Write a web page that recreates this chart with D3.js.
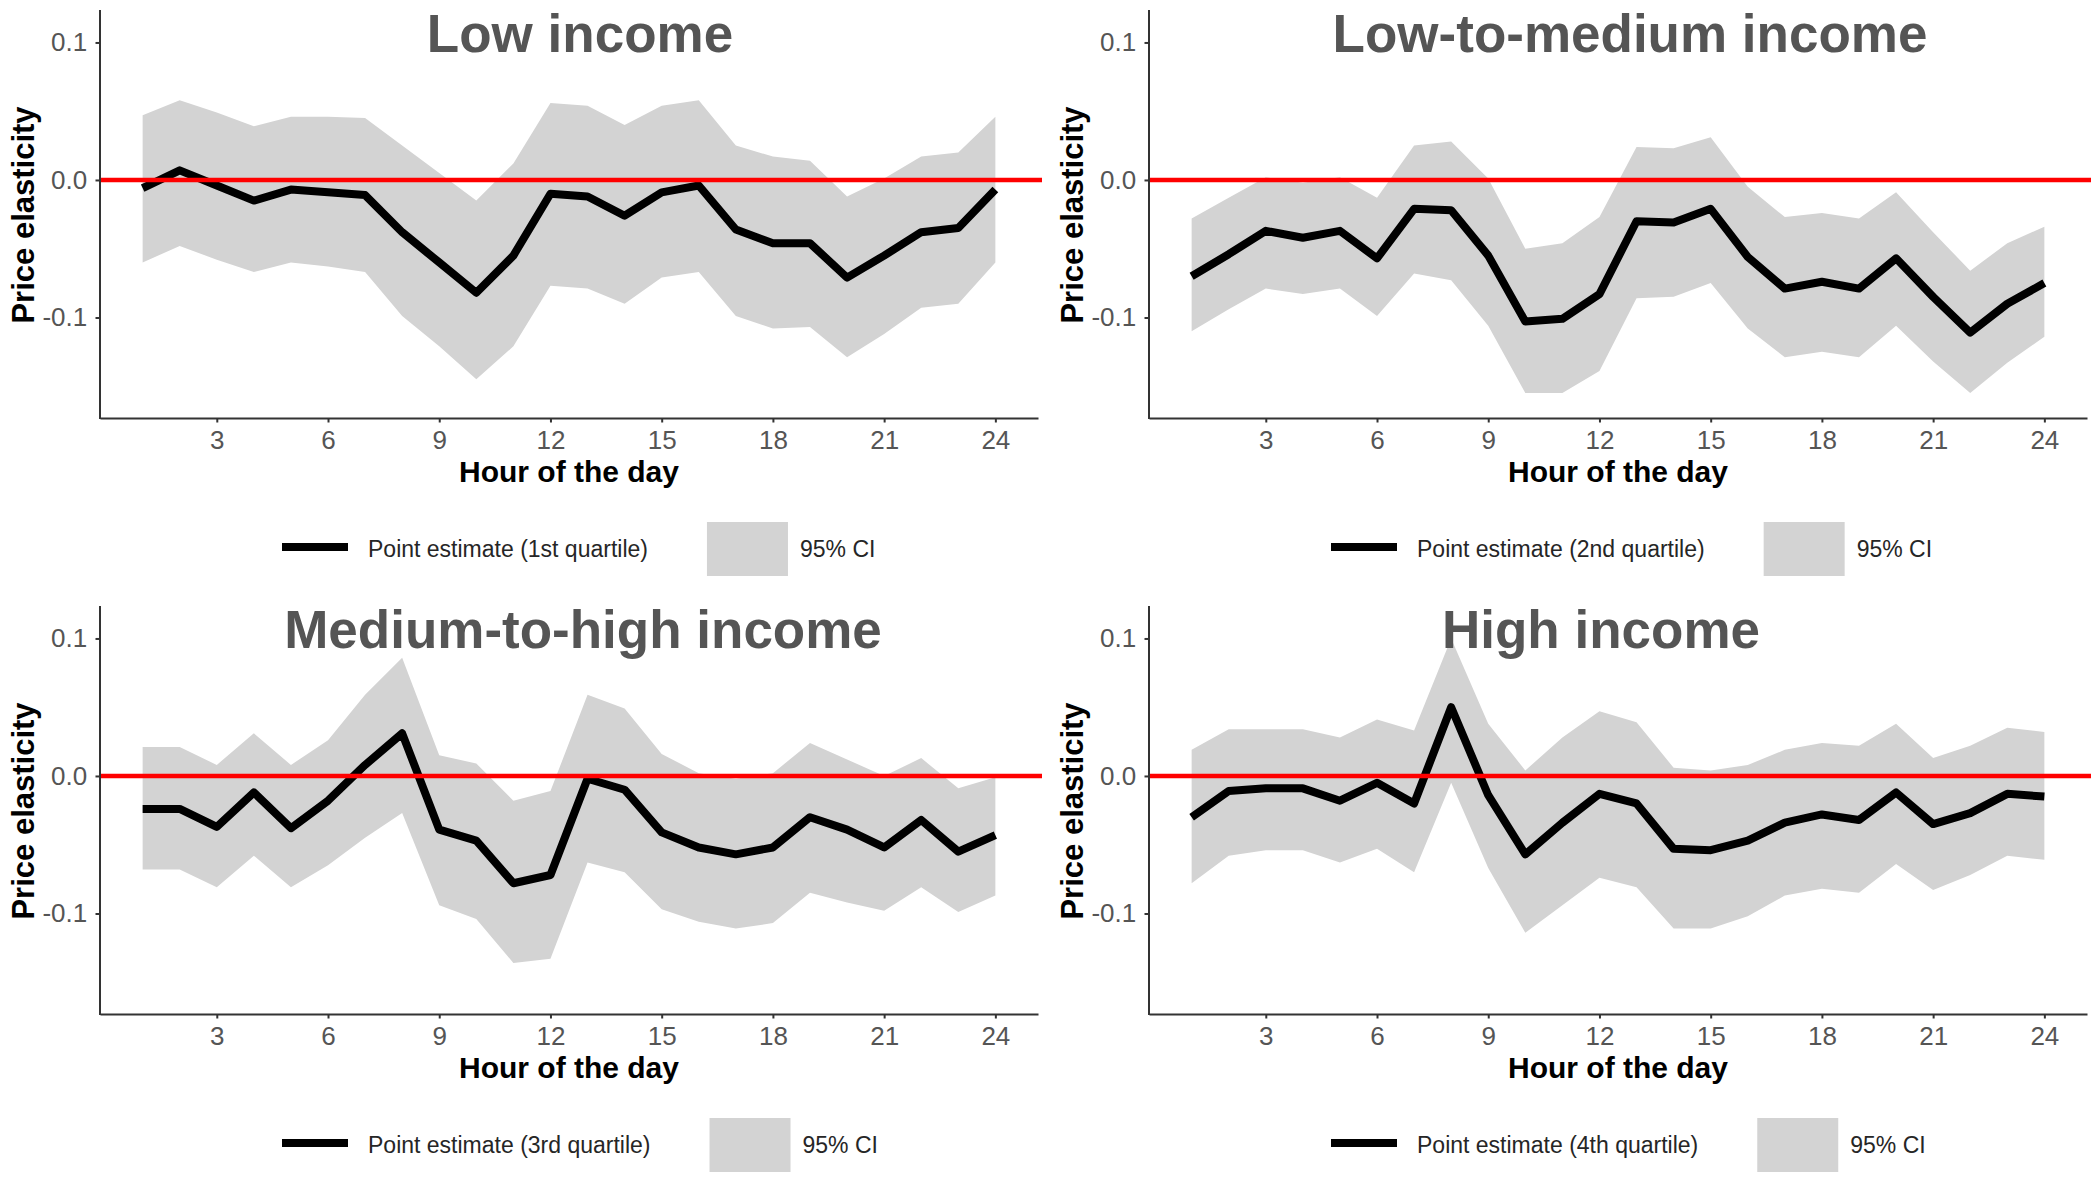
<!DOCTYPE html>
<html lang="en">
<head>
    <meta charset="UTF-8">
    <title>Price elasticity by hour of the day</title>
    <script src="https://d3js.org/d3.v7.min.js"></script>
    <style>
        body {
            margin: 0;
            background-color: #ffffff;
            font-family: "Liberation Sans", Arial, Helvetica, sans-serif;
        }

        svg {
            display: block;
        }

        .axis path,
        .axis line {
            stroke: #333333;
            stroke-width: 2px;
        }

        .axis text {
            fill: #555555;
            font-size: 26px;
            font-family: "Liberation Sans", Arial, sans-serif;
        }
    </style>
</head>
<body>

<svg id="chart"></svg>

<script>
    // ---- data ----
    const hours = [1, 2, 3, 4, 5, 6, 7, 8, 9, 10, 11, 12, 13, 14, 15, 16, 17, 18, 19, 20, 21, 22, 23, 24];

    const titles = ["Low income", "Low-to-medium income", "Medium-to-high income", "High income"];
    const legendLabels = [
        "Point estimate (1st quartile)",
        "Point estimate (2nd quartile)",
        "Point estimate (3rd quartile)",
        "Point estimate (4th quartile)"
    ];
    const ciLabel = "95% CI";

    const xTicks = [3, 6, 9, 12, 15, 18, 21, 24];
    const yTicks = [0.1, 0.0, -0.1];
    const yTickLabels = ["0.1", "0.0", "-0.1"];

    // Low income
    const est1 = [-0.006, 0.007, -0.004, -0.015, -0.007, -0.009, -0.011, -0.038, -0.060, -0.082, -0.055, -0.010,
                  -0.012, -0.026, -0.009, -0.004, -0.036, -0.046, -0.046, -0.071, -0.055, -0.038, -0.035, -0.007];
    const hi1 = [0.047, 0.058, 0.049, 0.039, 0.046, 0.046, 0.045, 0.025, 0.005, -0.015, 0.012, 0.056,
                 0.054, 0.040, 0.054, 0.058, 0.025, 0.017, 0.014, -0.012, 0.001, 0.017, 0.020, 0.046];
    const lo1 = [-0.060, -0.048, -0.058, -0.067, -0.060, -0.063, -0.067, -0.099, -0.121, -0.145, -0.121, -0.077,
                 -0.079, -0.090, -0.071, -0.067, -0.099, -0.108, -0.107, -0.129, -0.112, -0.093, -0.090, -0.060];

    // Low-to-medium income
    const est2 = [-0.070, -0.054, -0.037, -0.042, -0.037, -0.057, -0.021, -0.022, -0.055, -0.103, -0.101, -0.083,
                  -0.030, -0.031, -0.021, -0.056, -0.079, -0.074, -0.079, -0.057, -0.085, -0.111, -0.090, -0.075];
    const hi2 = [-0.028, -0.013, 0.002, -0.002, 0.002, -0.013, 0.025, 0.028, 0.001, -0.050, -0.046, -0.027,
                 0.024, 0.023, 0.031, -0.005, -0.027, -0.024, -0.028, -0.009, -0.038, -0.066, -0.046, -0.034];
    const lo2 = [-0.110, -0.094, -0.079, -0.083, -0.079, -0.099, -0.068, -0.073, -0.106, -0.155, -0.155, -0.139,
                 -0.086, -0.085, -0.075, -0.108, -0.129, -0.125, -0.129, -0.106, -0.132, -0.155, -0.133, -0.114];

    // Medium-to-high income
    const est3 = [-0.024, -0.024, -0.037, -0.012, -0.038, -0.018, 0.008, 0.031, -0.039, -0.047, -0.078, -0.072,
                  -0.002, -0.010, -0.041, -0.052, -0.057, -0.052, -0.030, -0.039, -0.052, -0.032, -0.055, -0.043];
    const hi3 = [0.021, 0.021, 0.008, 0.031, 0.008, 0.026, 0.059, 0.086, 0.015, 0.009, -0.018, -0.011,
                 0.059, 0.049, 0.016, 0.002, -0.002, 0.002, 0.024, 0.012, 0.000, 0.013, -0.009, -0.001];
    const lo3 = [-0.068, -0.068, -0.081, -0.058, -0.081, -0.065, -0.045, -0.027, -0.094, -0.104, -0.136, -0.133,
                 -0.063, -0.070, -0.097, -0.106, -0.111, -0.107, -0.085, -0.092, -0.098, -0.081, -0.099, -0.087];

    // High income
    const est4 = [-0.030, -0.011, -0.009, -0.009, -0.018, -0.005, -0.020, 0.050, -0.014, -0.057, -0.034, -0.013,
                  -0.020, -0.053, -0.054, -0.047, -0.034, -0.028, -0.032, -0.012, -0.035, -0.027, -0.013, -0.015];
    const hi4 = [0.019, 0.034, 0.034, 0.034, 0.028, 0.041, 0.033, 0.100, 0.038, 0.004, 0.028, 0.047,
                 0.039, 0.006, 0.004, 0.008, 0.019, 0.024, 0.022, 0.038, 0.013, 0.022, 0.035, 0.032];
    const lo4 = [-0.078, -0.058, -0.054, -0.054, -0.063, -0.053, -0.070, -0.005, -0.067, -0.114, -0.094, -0.074,
                 -0.081, -0.111, -0.111, -0.102, -0.087, -0.082, -0.085, -0.064, -0.083, -0.072, -0.058, -0.061];

    const estimates = [est1, est2, est3, est4];
    const uppers = [hi1, hi2, hi3, hi4];
    const lowers = [lo1, lo2, lo3, lo4];

    // ---- layout ----
    const svgWidth = 2096;
    const svgHeight = 1190;
    const panelW = 1049;
    const panelH = 596;
    const plot = {left: 100, right: 1038, top: 10, bottom: 418};
    const titleX = [580, 581, 583, 552];

    const svg = d3.select("#chart")
        .attr("width", svgWidth)
        .attr("height", svgHeight);

    svg.append("rect")
        .attr("width", svgWidth)
        .attr("height", svgHeight)
        .attr("fill", "#ffffff");

    // shared scales (same axes in every panel)
    const x = d3.scaleLinear()
        .domain([-0.15, 25.15])
        .range([plot.left, plot.right]);

    const y = d3.scaleLinear()
        .domain([-0.1731, 0.1236])
        .range([plot.bottom, plot.top]);

    const area = d3.area()
        .x((d, i) => x(hours[i]))
        .y0(d => y(d[0]))
        .y1(d => y(d[1]));

    const line = d3.line()
        .x((d, i) => x(hours[i]))
        .y(d => y(d));

    function drawPanel(k) {
        const col = k % 2;
        const row = Math.floor(k / 2);
        const g = svg.append("g")
            .attr("transform", `translate(${col * panelW}, ${row * panelH})`);

        // 95% CI ribbon
        const band = lowers[k].map((lo, i) => [lo, uppers[k][i]]);
        g.append("path")
            .datum(band)
            .attr("d", area)
            .attr("fill", "#d3d3d3");

        // point estimate
        g.append("path")
            .datum(estimates[k])
            .attr("d", line)
            .attr("fill", "none")
            .attr("stroke", "#000000")
            .attr("stroke-width", 8)
            .attr("stroke-linejoin", "round");

        // zero reference line
        g.append("line")
            .attr("x1", plot.left)
            .attr("x2", plot.right + 4)
            .attr("y1", y(0))
            .attr("y2", y(0))
            .attr("stroke", "#ff0000")
            .attr("stroke-width", 4.5);

        // axes
        const xAxis = g.append("g")
            .attr("class", "axis")
            .attr("transform", `translate(0, ${plot.bottom})`)
            .call(d3.axisBottom(x)
                .tickValues(xTicks)
                .tickSize(4.5)
                .tickSizeOuter(0)
                .tickPadding(8.5));
        xAxis.selectAll("text").attr("font-size", 25.5);

        const yAxis = g.append("g")
            .attr("class", "axis")
            .attr("transform", `translate(${plot.left}, 0)`)
            .call(d3.axisLeft(y)
                .tickValues(yTicks)
                .tickFormat((d, i) => yTickLabels[i])
                .tickSize(4.5)
                .tickSizeOuter(0)
                .tickPadding(8.3));
        yAxis.select(".domain").attr("d", `M0,${plot.top}V${plot.bottom + 1}`);

        // axis titles
        g.append("text")
            .attr("x", (plot.left + plot.right) / 2)
            .attr("y", 482)
            .attr("text-anchor", "middle")
            .attr("font-size", 30)
            .attr("font-weight", "bold")
            .attr("fill", "#000000")
            .text("Hour of the day");

        g.append("text")
            .attr("transform", `translate(34, ${(plot.top + plot.bottom) / 2 + 1}) rotate(-90)`)
            .attr("text-anchor", "middle")
            .attr("font-size", 31)
            .attr("font-weight", "bold")
            .attr("fill", "#000000")
            .text("Price elasticity");

        // legend
        const legend = g.append("g").attr("class", "legend");
        legend.append("line")
            .attr("x1", 282)
            .attr("x2", 348)
            .attr("y1", 547)
            .attr("y2", 547)
            .attr("stroke", "#000000")
            .attr("stroke-width", 8);

        const label = legend.append("text")
            .attr("x", 368)
            .attr("y", 556.5)
            .attr("font-size", 23)
            .attr("fill", "#262626")
            .text(legendLabels[k]);

        const labelEnd = 368 + label.node().getComputedTextLength();
        legend.append("rect")
            .attr("x", labelEnd + 59)
            .attr("y", 522)
            .attr("width", 81)
            .attr("height", 54)
            .attr("fill", "#d3d3d3");

        legend.append("text")
            .attr("x", labelEnd + 59 + 81 + 12)
            .attr("y", 556.5)
            .attr("font-size", 23)
            .attr("fill", "#262626")
            .text(ciLabel);

        // panel title, drawn last so it sits over the ribbon
        g.append("text")
            .attr("x", titleX[k])
            .attr("y", 52)
            .attr("text-anchor", "middle")
            .attr("font-size", 53)
            .attr("font-weight", "bold")
            .attr("fill", "#555555")
            .text(titles[k]);
    }

    titles.forEach((t, k) => drawPanel(k));
</script>

</body>
</html>
